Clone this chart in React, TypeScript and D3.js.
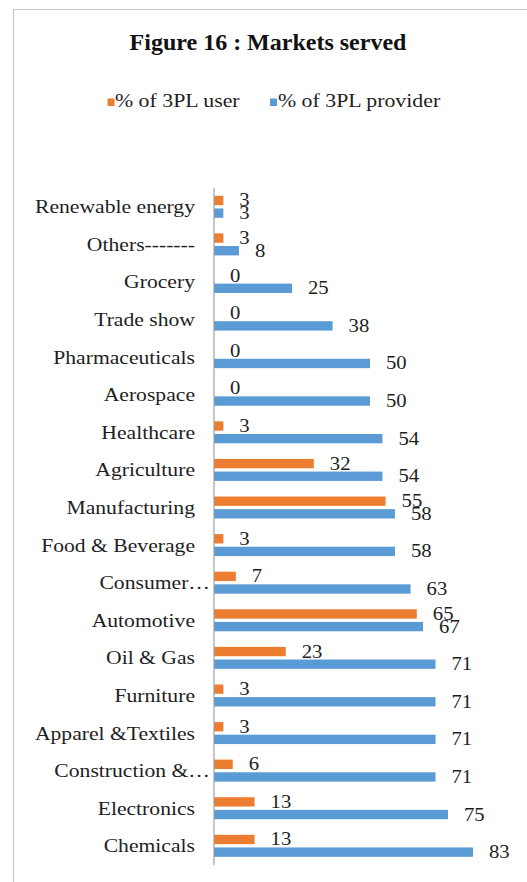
import React from "react";
import * as d3 from "d3";

const categories = [
  "Renewable energy",
  "Others-------",
  "Grocery",
  "Trade show",
  "Pharmaceuticals",
  "Aerospace",
  "Healthcare",
  "Agriculture",
  "Manufacturing",
  "Food & Beverage",
  "Consumer…",
  "Automotive",
  "Oil & Gas",
  "Furniture",
  "Apparel &Textiles",
  "Construction &…",
  "Electronics",
  "Chemicals",
];
const userValues = [3, 3, 0, 0, 0, 0, 3, 32, 55, 3, 7, 65, 23, 3, 3, 6, 13, 13];
const providerValues = [3, 8, 25, 38, 50, 50, 54, 54, 58, 58, 63, 67, 71, 71, 71, 71, 75, 83];
const seriesNames = ["% of 3PL user", "% of 3PL provider"];
const seriesColors = ["#ED7D31", "#5B9BD5"];
const title = "Figure 16 : Markets served";

const W = 527;
const H = 882;
const FONT = "'Liberation Serif', 'Times New Roman', serif";
const TXT = "#1e1e1e";

export default function App() {
  const y = d3.scaleBand<string>().domain(categories).range([188, 864.6]).padding(0);
  const x = d3.scaleLinear().domain([0, 90]).range([214, 214 + 90 * 3.12]);
  const inner = d3
    .scaleBand<number>()
    .domain([0, 1])
    .range([-11, 11])
    .paddingInner(0.26)
    .paddingOuter(0);
  const series = [userValues, providerValues];

  const stretched = (
    key: string,
    tx: number,
    ty: number,
    text: string,
    anchor: "start" | "end" | "middle",
    size = 18,
    sx = 1.15
  ) => (
    <text
      key={key}
      transform={`translate(${tx},${ty}) scale(${sx},1)`}
      textAnchor={anchor}
      fontFamily={FONT}
      fontSize={size}
      fill={TXT}
    >
      {text}
    </text>
  );

  const legendItems = [
    { sq: 107.5, tx: 115 },
    { sq: 270, tx: 278 },
  ];

  return (
    <svg
      width={W}
      height={H}
      style={{ position: "absolute", left: 0, top: 0, background: "#fff" }}
    >
      <rect x={0} y={0} width={W} height={H} fill="#fff" />
      <path d={`M13.5,${H + 2} V9.5 H${W + 2}`} fill="none" stroke="#c8c8c8" strokeWidth={1.2} />
      <text
        x={268}
        y={49.5}
        textAnchor="middle"
        fontFamily={FONT}
        fontWeight="bold"
        fontSize={24}
        fill="#111"
      >
        {title}
      </text>
      {seriesNames.map((n, i) => (
        <g key={n}>
          <rect x={legendItems[i].sq} y={98.5} width={7} height={7.5} fill={seriesColors[i]} />
          {stretched("lg" + i, legendItems[i].tx, 106.5, n, "start", 18.5, 1.18)}
        </g>
      ))}
      {categories.map((c, ci) => {
        const center = (y(c) as number) + y.bandwidth() / 2;
        const ellipsis = c.endsWith("…");
        return (
          <g key={c}>
            {stretched("cl" + ci, ellipsis ? 210 : 195, center + 6.5, c, "end", 18.5, 1.17)}
            {series.map((vals, si) => {
              const top = center + (inner(si) as number);
              const bh = inner.bandwidth();
              const v = vals[ci];
              return (
                <g key={si}>
                  <rect
                    x={x(0)}
                    y={top}
                    width={x(v) - x(0)}
                    height={bh}
                    fill={seriesColors[si]}
                  />
                  {stretched("v" + ci + "-" + si, x(v) + 16, top + bh / 2 + 6, String(v), "start")}
                </g>
              );
            })}
          </g>
        );
      })}
      <line x1={x(0)} x2={x(0)} y1={188} y2={865} stroke="#a0a0a0" strokeWidth={1.2} />
    </svg>
  );
}
